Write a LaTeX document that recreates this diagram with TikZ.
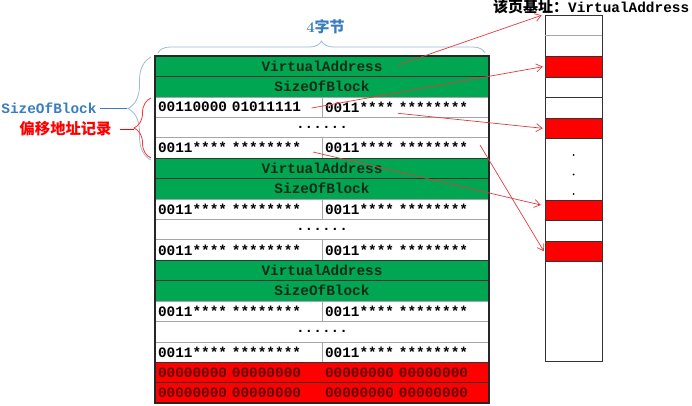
\documentclass[tikz,border=0pt]{standalone}
\usepackage{fontspec}
\setmonofont{Liberation Mono}
\newfontfamily\cjk{Noto Sans CJK SC}
\usetikzlibrary{arrows.meta,decorations.pathreplacing}
\definecolor{vert}{RGB}{0,166,81}
\definecolor{rouge}{RGB}{255,0,0}
\definecolor{bleu}{RGB}{58,124,192}
\definecolor{accolade}{RGB}{160,185,212}
\definecolor{fleche}{RGB}{225,60,60}
\definecolor{txtvert}{RGB}{20,45,25}
\definecolor{txtrouge}{RGB}{100,0,0}

\begin{document}
\begin{tikzpicture}[x=1pt,y=-1pt,
  every node/.style={font=\ttfamily\bfseries\fontsize{14.4}{16}\selectfont},
  ligne/.style={minimum width=334pt,minimum height=20.41pt,inner sep=0pt},
  entete/.style={ligne,fill=vert,draw=black!80,text=txtvert},
  points/.style={ligne,fill=white,draw=gray!70},
  cellule/.style={minimum height=20.41pt,text width=161pt,inner xsep=3pt,inner ysep=0pt,align=left,draw=gray!70,fill=white},
  zero/.style={cellule,draw=none,fill=none,text=txtrouge},
  bloc/.style={minimum width=57pt,minimum height=20.2pt,inner sep=0pt,fill=rouge,draw=black!80},
  fl/.style={draw=fleche,line width=0.7pt,-{Straight Barb[length=6pt,width=8pt]}}]%
\useasboundingbox (0,0) rectangle (692,405);
%%TABLE
\foreach \b in {0,1,2}{%
  \pgfmathsetmacro\o{102.05*\b}
  \node[entete] (va\b) at (322,66.2+\o) {VirtualAddress};
  \node[entete] (sb\b) at (322,86.6+\o) {SizeOfBlock};
  \node[cellule] (g\b) at (238.5,107.0+\o) {\ifnum\b=0 00110000 01011111\else 0011**** ********\fi};
  \node[cellule] (d\b) at (405.5,107.0+\o) {0011**** ********};
  \node[points] (p\b) at (322,127.4+\o) {......};
  \node[cellule] (gg\b) at (238.5,147.8+\o) {0011**** ********};
  \node[cellule] (dd\b) at (405.5,147.8+\o) {0011**** ********};
}
%%LIGNES ROUGES
\node[ligne,fill=rouge,draw=black!80] (z1) at (322,372.4) {};
\node[ligne,fill=rouge,draw=black!80] (z2) at (322,392.8) {};
\node[zero] (zg1) at (238.5,372.4) {00000000 00000000};
\node[zero] (zd1) at (405.5,372.4) {00000000 00000000};
\node[zero] (zg2) at (238.5,392.8) {00000000 00000000};
\node[zero] (zd2) at (405.5,392.8) {00000000 00000000};
\draw[line width=1.5pt,black!85] (va0.north west) rectangle (z2.south east);
%%PAGE
\node[draw=black!80,line width=0.8pt,minimum width=57pt,minimum height=345.3pt,inner sep=0pt] (page) at (573.5,188.35) {};
\draw[gray!70,line width=0.8pt] (page.west |- 0,35.7) -- (page.east |- 0,35.7);
\draw[black!80,line width=0.6pt] (page.west |- 0,97.3) -- (page.east |- 0,97.3);
\node[bloc] (r1) at (573.5,66.7) {};
\node[bloc] (r2) at (573.5,128.3) {};
\node[bloc] (r3) at (573.5,210.5) {};
\node[bloc] (r4) at (573.5,251.2) {};
\fill (573.5,155) circle (1pt);
\fill (573.5,174.5) circle (1pt);
\fill (573.5,194) circle (1pt);
\node[anchor=base west,inner sep=0pt] (titre) at (493,12.5) {{\cjk\fontsize{15}{16}\selectfont 该页基址：}VirtualAddress};
%%ACCOLADES
\draw[accolade,line width=0.8pt,decorate,decoration={brace,amplitude=12pt}] (158,53) -- (485,53);
\node[text=bleu,font=\bfseries\fontsize{15}{17}\selectfont] (quatre) at (325.5,27) {4{\cjk 字节}};
\draw[accolade,line width=0.8pt,decorate,decoration={brace,amplitude=23pt}] (151,160) -- (151,57);
\draw[rouge!80,line width=0.8pt,decorate,decoration={brace,amplitude=17pt}] (151,158) -- (151,98);
\coordinate (otip) at (127,108.5);
\coordinate (rtip) at (134,129);
\node[text=bleu,anchor=east] (sob) at (100,108.5) {SizeOfBlock};
\node[text=rouge,anchor=east,font=\cjk\bfseries\fontsize{15.3}{17}\selectfont] (offs) at (115,129) {偏移地址记录};
\draw[bleu,line width=0.8pt] (sob.east) -- (otip);
\draw[rouge,line width=0.8pt,shorten <=5pt] (offs.east) -- (rtip);
%%FLECHES
\coordinate (s1) at (398,65);
\coordinate (s2) at (311.7,108);
\coordinate (s3) at (398,113.3);
\coordinate (s4) at (313,152);
\coordinate (s5) at (480,145);
\draw[fl] (s1) -- ([xshift=-3pt]page.north west);
\draw[fl] (s2) -- ([xshift=-2pt]r1.west);
\draw[fl] (s3) -- ([xshift=-2pt]r2.west);
\draw[fl] (s4) -- ([shift={(-4,-5.5)}]r3.west);
\draw[fl] (s5) -- ([xshift=-1pt]r4.west);
\end{tikzpicture}
\end{document}
